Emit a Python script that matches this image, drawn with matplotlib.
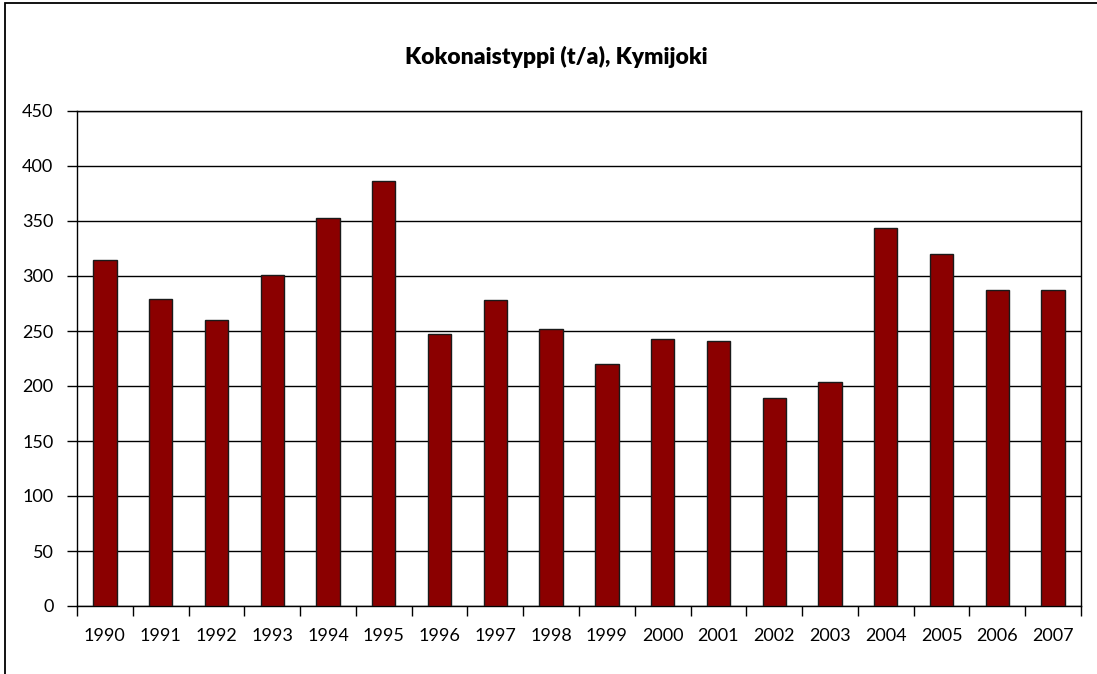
import matplotlib
matplotlib.use("Agg")
import matplotlib.pyplot as plt
from matplotlib.patches import Rectangle
import numpy as np

years = ["1990", "1991", "1992", "1993", "1994", "1995", "1996", "1997", "1998",
         "1999", "2000", "2001", "2002", "2003", "2004", "2005", "2006", "2007"]
values = [315, 279, 260, 301, 353, 386, 247, 278, 252,
          220, 243, 241, 189, 204, 344, 320, 287, 287]
yticks = [0, 50, 100, 150, 200, 250, 300, 350, 400, 450]
title = "Kokonaistyppi (t/a), Kymijoki"

plt.rcParams['font.family'] = ['Lato', 'DejaVu Sans']

W, H = 1097, 674
fig = plt.figure(figsize=(W / 100, H / 100), dpi=100)
fig.patch.set_facecolor("white")

# outer frame (left and top visible)
fig.patches.append(Rectangle((5 / W, -0.05), 1.2, 1 - 3 / H + 0.05, transform=fig.transFigure,
                             fill=False, edgecolor="black", linewidth=1.3))

ax = fig.add_axes([77 / W, 1 - 606 / H, (1081 - 77) / W, (606 - 111) / H])
x = np.arange(len(years))
ax.bar(x, values, width=0.42, color="#8B0000", edgecolor="#1a1a1a", linewidth=1.0, zorder=3)

ax.set_xlim(-0.5, len(years) - 0.5)
ax.set_ylim(0, 450)
ax.set_yticks(yticks)
ax.set_yticklabels([str(v) for v in yticks], fontsize=13)
ax.yaxis.grid(True, color="black", linewidth=1.0, zorder=0)
ax.set_axisbelow(True)

ax.set_xticks(x)
ax.set_xticklabels(years, fontsize=13)
ax.set_xticks(np.arange(len(years) + 1) - 0.5, minor=True)
ax.tick_params(axis="x", which="major", length=0, pad=16)
ax.tick_params(axis="x", which="minor", length=7, width=1.0, direction="out")
ax.tick_params(axis="y", length=7, width=1.0, direction="out", pad=10)

for s in ax.spines.values():
    s.set_linewidth(1.0)
    s.set_color("black")

fig.text(556 / W, 1 - 57 / H, title, ha="center", va="center",
         fontsize=16.5, fontweight="heavy")

fig.savefig("out.png", dpi=100)
